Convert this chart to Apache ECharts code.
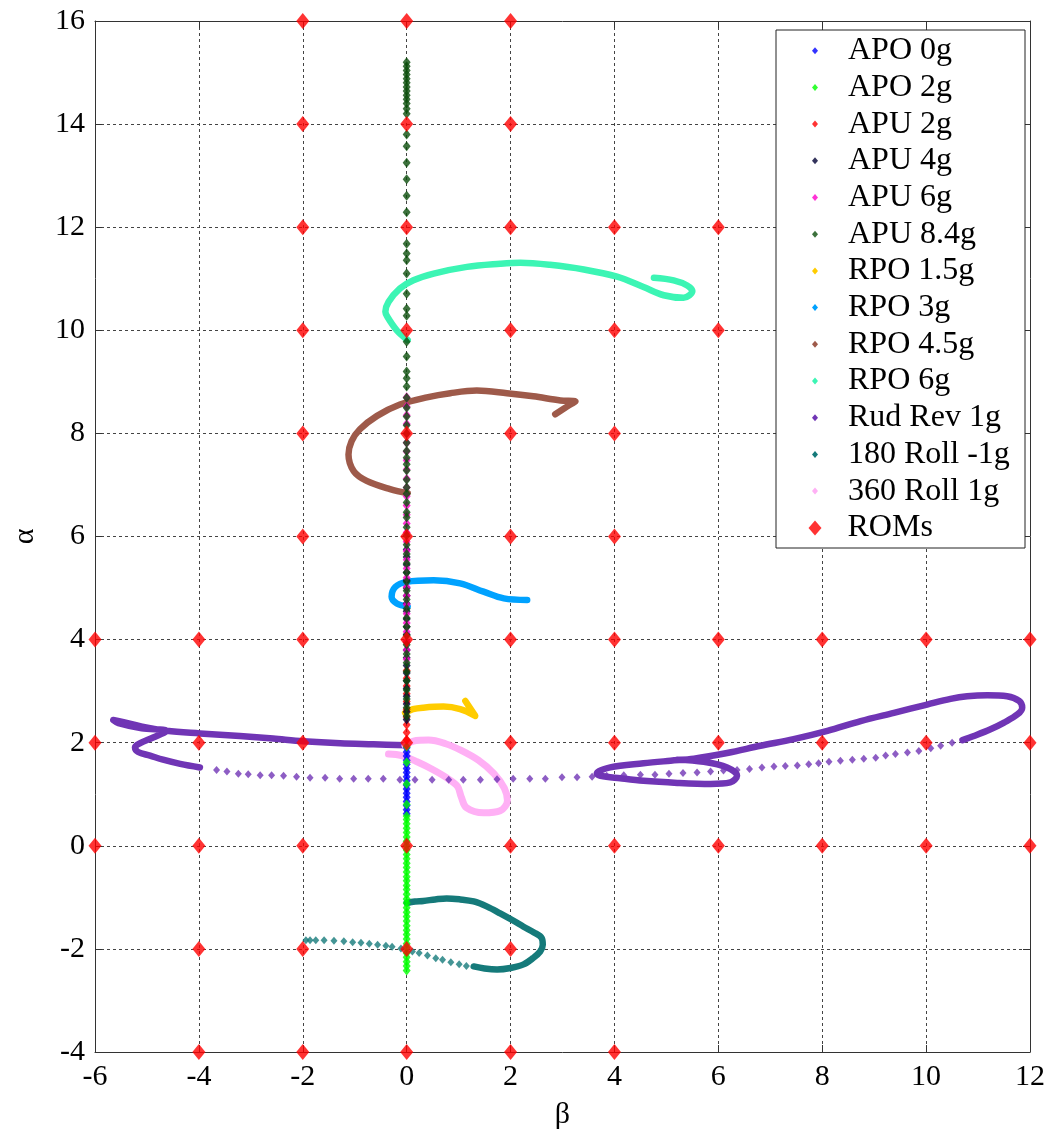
<!DOCTYPE html>
<html>
<head>
<meta charset="utf-8">
<script src="https://cdn.jsdelivr.net/npm/echarts@6/dist/echarts.min.js"></script>
<style>html,body{margin:0;padding:0;background:#fff;}#chart{width:1048px;height:1135px;}</style>
</head>
<body>
<div id="chart"></div>
<script>
// ---- tick settings ----
const betaTicks = {min: -6, max: 12, interval: 2};
const alphaTicks = {min: -4, max: 16, interval: 2};

// ---- vertical series at beta = 0 (alpha values) ----
const apo0gAlpha = [0.62,0.70,0.78,0.86,0.94,1.02,1.10,1.18,1.26,1.34,1.42,1.50,1.58,1.66,1.74,1.82,1.90];
const apo2gAlpha = [-2.42,-2.33,-2.25,-2.16,-2.08,-1.98,-1.90,-1.81,-1.72,-1.64,-1.55,-1.46,-1.37,-1.29,-1.20,-1.11,-1.03,-0.94,-0.85,-0.77,-0.68,-0.60,-0.51,-0.42,-0.34,-0.25,-0.17,-0.08,0.00,0.09,0.17,0.26,0.34,0.43,0.51,0.58,0.80,1.20,1.62,1.92];
const apu2gAlpha = [2.05,2.20,2.35,2.50,2.65,2.80,2.95,3.10,3.25,3.40];
const apu4gAlpha = [2.45,2.60,2.75,2.90,3.05,3.20,3.35,3.50,3.65,3.80,3.95,4.10,4.25,4.40,4.55,4.70,4.85,5.00,5.15,5.30,5.45,5.60,5.75];
const apu6gAlpha = [3.62,3.80,3.97,4.15,4.32,4.50,4.68,4.85,5.02,5.20,5.38,5.55,5.72,5.90,6.08,6.25,6.42,6.60,6.78,6.95,7.12,7.30,7.48,7.65,7.82,8.00,8.18,8.35,8.52,8.70];
const apu84gAlpha = [2.52,2.68,2.85,3.02,3.20,3.38,3.55,3.72,3.90,4.08,4.25,4.42,4.60,4.78,4.95,5.12,5.30,5.48,5.66,5.84,6.02,6.18,6.37,6.47,6.66,6.83,6.95,7.10,7.28,7.40,7.53,7.66,7.82,8.00,8.16,8.33,8.50,8.69,8.91,9.07,9.20,9.49,9.78,10.28,10.42,10.71,11.10,11.36,11.49,11.68,12.29,12.61,12.93,13.25,13.57,13.80,14.20,14.30,14.40,14.48,14.56,14.64,14.72,14.80,14.88,14.96,15.04,15.12,15.20];

// ---- curve paths [beta, alpha] ----
const rpo15gPath = [[-0.03,2.58],[0.12,2.65],[0.32,2.68],[0.71,2.70],[1.03,2.65],[1.32,2.52],[1.13,2.81]];
const rpo3gPath = [[0.02,4.64],[-0.19,4.70],[-0.29,4.83],[-0.22,5.02],[0.00,5.12],[0.52,5.15],[1.03,5.09],[1.48,4.93],[1.87,4.80],[2.32,4.77]];
const rpo45gPath = [[0.02,6.84],[-0.32,6.92],[-0.77,7.08],[-1.02,7.27],[-1.12,7.59],[-1.06,7.85],[-0.90,8.08],[-0.57,8.34],[-0.13,8.56],[0.39,8.70],[0.84,8.78],[1.35,8.83],[1.93,8.78],[2.44,8.72],[2.96,8.64],[3.25,8.62],[3.15,8.56],[2.86,8.37]];
const rpo6gPath = [[0.02,9.81],[-0.19,10.00],[-0.37,10.26],[-0.41,10.36],[-0.35,10.55],[-0.13,10.81],[0.13,10.97],[0.52,11.10],[1.16,11.23],[1.80,11.29],[2.19,11.31],[2.76,11.27],[3.41,11.18],[4.05,11.04],[4.56,10.84],[4.95,10.68],[5.33,10.63],[5.50,10.76],[5.40,10.87],[5.14,10.97],[4.76,11.02]];
const rudRevLeftPath = [[0.00,1.95],[-0.64,1.97],[-1.28,1.99],[-1.99,2.03],[-2.57,2.08],[-3.21,2.13],[-3.98,2.18],[-4.62,2.23],[-5.13,2.32],[-5.45,2.40],[-5.65,2.44],[-5.55,2.38],[-5.10,2.28],[-4.62,2.23],[-4.88,2.10],[-5.13,1.99],[-5.23,1.91],[-5.17,1.82],[-4.94,1.75],[-4.69,1.67],[-4.36,1.59],[-3.98,1.52]];
const rudRevDots = [[-3.66,1.47],[-3.46,1.44],[-3.24,1.40],[-3.05,1.39],[-2.82,1.37],[-2.60,1.37],[-2.37,1.36],[-2.12,1.34],[-1.86,1.32],[-1.57,1.32],[-1.29,1.30],[-1.02,1.30],[-0.74,1.30],[-0.45,1.30],[-0.13,1.28],[0.16,1.28],[0.49,1.28],[0.81,1.28],[1.09,1.28],[1.42,1.28],[1.74,1.29],[2.05,1.30],[2.37,1.30],[2.67,1.30],[2.99,1.33],[3.28,1.33],[3.57,1.34],[3.85,1.36],[4.18,1.37],[4.50,1.38],[4.78,1.38],[5.05,1.40],[5.32,1.41],[5.59,1.42],[5.85,1.44],[6.10,1.46],[6.36,1.47],[6.60,1.49],[6.84,1.52],[7.07,1.54],[7.29,1.55],[7.52,1.56],[7.74,1.58],[7.93,1.60],[8.13,1.63],[8.35,1.65],[8.58,1.67],[8.80,1.69],[9.03,1.71],[9.22,1.75],[9.41,1.78],[9.64,1.81],[9.86,1.84],[10.09,1.89],[10.28,1.94],[10.50,2.00]];
const rudRevRightPath = [[10.70,2.05],[10.92,2.13],[11.24,2.26],[11.50,2.39],[11.76,2.55],[11.85,2.68],[11.79,2.81],[11.56,2.90],[11.18,2.92],[10.79,2.90],[10.47,2.85],[10.02,2.74],[9.38,2.58],[8.74,2.42],[8.10,2.23],[7.45,2.07],[6.81,1.94],[6.17,1.80],[5.53,1.69],[5.08,1.65],[4.56,1.60],[3.92,1.52],[3.66,1.40],[3.73,1.36],[4.11,1.31],[4.56,1.26],[5.21,1.22],[5.85,1.20],[6.23,1.23],[6.36,1.36],[6.17,1.52],[5.72,1.63],[5.21,1.67]];
const roll180Path = [[0.00,-1.11],[0.16,-1.08],[0.32,-1.07],[0.55,-1.04],[0.77,-1.02],[1.03,-1.04],[1.29,-1.08],[1.55,-1.18],[1.80,-1.31],[2.05,-1.45],[2.25,-1.57],[2.45,-1.68],[2.60,-1.79],[2.62,-1.92],[2.57,-2.05],[2.43,-2.18],[2.25,-2.30],[2.00,-2.37],[1.74,-2.40],[1.50,-2.38],[1.29,-2.34]];
const roll180Dots = [[1.15,-2.33],[1.01,-2.30],[0.85,-2.26],[0.69,-2.21],[0.56,-2.18],[0.40,-2.13],[0.24,-2.08],[0.11,-2.05],[-0.11,-1.99],[-0.28,-1.96],[-0.40,-1.94],[-0.56,-1.92],[-0.72,-1.90],[-0.88,-1.88],[-1.04,-1.87],[-1.21,-1.85],[-1.40,-1.84],[-1.59,-1.83],[-1.75,-1.83],[-1.86,-1.83],[-1.94,-1.83]];
const roll360Path = [[-0.03,1.94],[0.13,2.03],[0.42,2.05],[0.75,1.98],[1.05,1.85],[1.38,1.66],[1.68,1.40],[1.88,1.12],[1.94,0.88],[1.80,0.68],[1.48,0.64],[1.15,0.74],[1.05,0.95],[0.98,1.15],[0.80,1.30],[0.50,1.48],[0.20,1.63],[-0.10,1.75],[-0.35,1.78]];

// ---- ROM grid points ----
const romPoints = [
  [-2,16],[0,16],[2,16],
  [-2,14],[0,14],[2,14],
  [-2,12],[0,12],[2,12],[4,12],[6,12],
  [-2,10],[0,10],[2,10],[4,10],[6,10],
  [-2,8],[0,8],[2,8],[4,8],
  [-2,6],[0,6],[2,6],[4,6],
  [-6,4],[-4,4],[-2,4],[0,4],[2,4],[4,4],[6,4],[8,4],[10,4],[12,4],
  [-6,2],[-4,2],[-2,2],[0,2],[2,2],[4,2],[6,2],[8,2],[10,2],[12,2],
  [-6,0],[-4,0],[-2,0],[0,0],[2,0],[4,0],[6,0],[8,0],[10,0],[12,0],
  [-4,-2],[-2,-2],[0,-2],[2,-2],
  [-4,-4],[-2,-4],[0,-4],[2,-4],[4,-4]
];

const seriesNames = ['APO 0g','APO 2g','APU 2g','APU 4g','APU 6g','APU 8.4g','RPO 1.5g','RPO 3g','RPO 4.5g','RPO 6g','Rud Rev 1g','180 Roll -1g','360 Roll 1g'];
const seriesColors = ['#0000FF','#00FF00','#FF0000','#000033','#FF00CC','#0B4D0B','#FFCC00','#00A2FF','#9E5A4A','#3CF5B4','#7035B5','#157A7A','#FFB0F5'];

const FONT = 'Liberation Serif';
const chart = echarts.init(document.getElementById('chart'), null, {renderer: 'canvas'});

function col(a) { return a.map(v => [0, v]); }
function dots(name, color, data, size) {
  return {name: name, type: 'scatter', data: data, symbol: 'diamond', symbolSize: size || [8, 10],
    itemStyle: {color: color}, clip: false, silent: true, z: 2};
}
function path(name, color, data, width) {
  return {name: name, type: 'line', data: data, smooth: 0.35, showSymbol: false, symbol: 'none',
    lineStyle: {width: width || 6.5, color: color, cap: 'round', join: 'round'},
    itemStyle: {color: color}, clip: false, silent: true, z: 2};
}
const C = {};
seriesNames.forEach((n, i) => C[n] = seriesColors[i]);

const series = [
  dots('APO 0g', C['APO 0g'], col(apo0gAlpha)),
  dots('APO 2g', C['APO 2g'], col(apo2gAlpha)),
  dots('APU 2g', C['APU 2g'], col(apu2gAlpha)),
  dots('APU 4g', C['APU 4g'], col(apu4gAlpha)),
  dots('APU 6g', C['APU 6g'], col(apu6gAlpha)),
  dots('APU 8.4g', C['APU 8.4g'], col(apu84gAlpha), [8, 10]),
  path('RPO 1.5g', C['RPO 1.5g'], rpo15gPath),
  path('RPO 3g', C['RPO 3g'], rpo3gPath),
  path('RPO 4.5g', C['RPO 4.5g'], rpo45gPath),
  path('RPO 6g', C['RPO 6g'], rpo6gPath),
  path('Rud Rev 1g', C['Rud Rev 1g'], rudRevLeftPath),
  dots('Rud Rev 1g', C['Rud Rev 1g'], rudRevDots, [7, 8]),
  path('Rud Rev 1g', C['Rud Rev 1g'], rudRevRightPath),
  path('180 Roll -1g', C['180 Roll -1g'], roll180Path),
  dots('180 Roll -1g', C['180 Roll -1g'], roll180Dots, [7, 8]),
  path('360 Roll 1g', C['360 Roll 1g'], roll360Path, 7),
  {name: 'ROMs', type: 'scatter', data: romPoints, symbol: 'diamond', symbolSize: [13, 16],
    itemStyle: {color: '#FF0000'}, clip: false, silent: true, z: 3}
];

const axisLineStyle = {show: true, onZero: false, lineStyle: {color: '#333', width: 1}};
const tickStyle = {show: true, inside: true, length: 7, lineStyle: {color: '#333', width: 1}};
const gridLine = {show: true, lineStyle: {type: [3, 3], color: '#444', width: 1}};
const labelStyle = {fontFamily: FONT, fontSize: 30, color: '#000'};

const option = {
  animation: false,
  backgroundColor: '#fff',
  grid: {left: 95, right: 17, top: 21, bottom: 76, containLabel: false},
  xAxis: [
    {type: 'value', min: betaTicks.min, max: betaTicks.max, interval: betaTicks.interval, position: 'bottom',
     name: 'β', nameLocation: 'middle', nameGap: 48, nameTextStyle: {fontFamily: FONT, fontSize: 30, color: '#000'},
     axisLine: axisLineStyle, axisTick: tickStyle, axisLabel: Object.assign({margin: 10}, labelStyle), splitLine: gridLine},
    {type: 'value', min: betaTicks.min, max: betaTicks.max, interval: betaTicks.interval, position: 'top',
     axisLine: axisLineStyle, axisTick: tickStyle, axisLabel: {show: false}, splitLine: {show: false}}
  ],
  yAxis: [
    {type: 'value', min: alphaTicks.min, max: alphaTicks.max, interval: alphaTicks.interval, position: 'left',
     name: 'α', nameLocation: 'middle', nameGap: 55, nameRotate: 90, nameTextStyle: {fontFamily: FONT, fontSize: 30, color: '#000'},
     axisLine: axisLineStyle, axisTick: tickStyle, axisLabel: Object.assign({margin: 10}, labelStyle), splitLine: gridLine},
    {type: 'value', min: alphaTicks.min, max: alphaTicks.max, interval: alphaTicks.interval, position: 'right',
     axisLine: axisLineStyle, axisTick: tickStyle, axisLabel: {show: false}, splitLine: {show: false}}
  ],
  graphic: [{type: 'rect', z: 5, shape: {x: 776, y: 30, width: 249, height: 518},
    style: {fill: '#fff', stroke: '#222', lineWidth: 1}, silent: true}],
  legend: [
    {data: seriesNames.map(n => ({name: n, icon: 'diamond'})), orient: 'vertical', left: 812, top: 34.7,
     padding: 0, itemWidth: 6, itemHeight: 7, itemGap: 4.7, selectedMode: false, z: 6,
     textStyle: {fontFamily: FONT, fontSize: 32, color: '#000', padding: [0, 0, 0, 25]}},
    {data: [{name: 'ROMs', icon: 'diamond'}], orient: 'vertical', left: 808.5, top: 512,
     padding: 0, itemWidth: 13, itemHeight: 15, selectedMode: false, z: 6,
     textStyle: {fontFamily: FONT, fontSize: 32, color: '#000', padding: [0, 0, 0, 21]}}
  ],
  series: series
};
chart.setOption(option);
</script>
</body>
</html>
